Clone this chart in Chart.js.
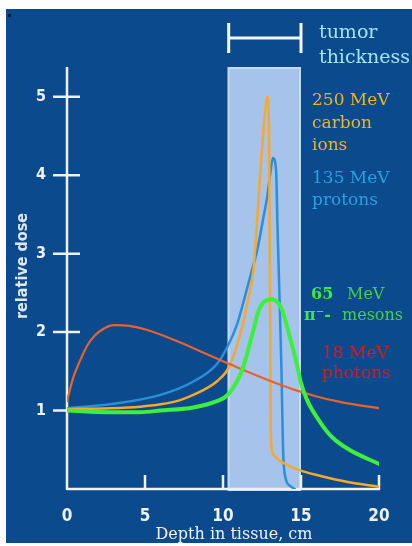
<!DOCTYPE html>
<html>
<head>
<meta charset="utf-8">
<script src="https://cdn.jsdelivr.net/npm/chart.js@4"></script>
<style>
  html, body { margin: 0; padding: 0; background: #fff; }
  canvas { display: block; }
</style>
</head>
<body>
<canvas id="chart" width="412" height="546"></canvas>
<script>
// tick values
const xTicks = [0, 5, 10, 15, 20];
const yTicks = [1, 2, 3, 4, 5];
// tumor region, cm
const tumorRange = [10.3, 15.0];

// 18 MeV photons
const photonDepth = [0, 0.4, 0.8, 1.3, 1.8, 2.4, 3.0, 4.0, 5.1, 7.0, 8.5, 10.0, 11.5, 13.0, 14.5, 16.0, 17.5, 19.0, 20];
const photonDose  = [1.12, 1.42, 1.62, 1.83, 1.96, 2.05, 2.09, 2.08, 2.03, 1.89, 1.76, 1.63, 1.50, 1.38, 1.27, 1.18, 1.11, 1.06, 1.03];

// 250 MeV carbon ions
const carbonDepth = [0, 2.75, 4.7, 6.0, 7.2, 8.1, 9.0, 9.6, 10.4, 11.1, 11.6, 11.95, 12.5, 12.85, 12.95, 13.0, 13.05, 13.1, 13.3, 13.65, 14.9, 16.2, 18.0, 20];
const carbonDose  = [1.02, 1.03, 1.05, 1.08, 1.13, 1.2, 1.29, 1.37, 1.56, 1.97, 2.4, 2.79, 4.32, 5.0, 4.6, 3.0, 1.0, 0.55, 0.42, 0.36, 0.24, 0.17, 0.09, 0.03];

// 135 MeV protons
const protonDepth = [0, 2.75, 6.0, 8.1, 9.6, 10.3, 10.9, 11.4, 11.8, 12.2, 12.6, 12.85, 13.05, 13.2, 13.4, 13.5, 13.6, 13.75, 13.85, 14.0, 14.3, 14.6];
const protonDose  = [1.03, 1.08, 1.2, 1.37, 1.59, 1.82, 2.1, 2.45, 2.75, 3.05, 3.47, 3.75, 4.05, 4.22, 4.07, 3.3, 2.6, 1.5, 0.5, 0.15, 0.04, 0];

// 65 MeV pi- mesons
const pionDepth = [0, 2.75, 4.7, 6.0, 8.1, 9.6, 10.3, 11.2, 11.85, 12.3, 12.6, 13.1, 13.5, 13.8, 14.2, 14.7, 15.0, 15.4, 16.2, 17.0, 18.1, 20];
const pionDose  = [1.0, 0.98, 0.98, 1.0, 1.04, 1.12, 1.2, 1.5, 1.95, 2.28, 2.38, 2.42, 2.38, 2.28, 2.0, 1.62, 1.35, 1.13, 0.86, 0.66, 0.5, 0.32];

const toPoints = (xs, ys) => xs.map((x, i) => ({ x: x, y: ys[i] }));

const serif = '"DejaVu Serif", "Liberation Serif", serif';
const narrow = '"DejaVu Sans Condensed", "Liberation Sans Narrow", sans-serif';

const backdrop = {
  id: 'backdrop',
  beforeDraw(chart) {
    const c = chart.ctx;
    c.save();
    c.fillStyle = '#ffffff';
    c.fillRect(0, 0, chart.width, chart.height);
    c.fillStyle = '#0b4a8c';
    c.fillRect(6, 9, chart.width - 6, 534);
    c.fillStyle = '#0a1a30';
    c.fillRect(8, 14, 3, 3);
    c.restore();
  }
};

const tumorBand = {
  id: 'tumorBand',
  beforeDatasetsDraw(chart) {
    const c = chart.ctx, x = chart.scales.x, y = chart.scales.y;
    const x0 = x.getPixelForValue(tumorRange[0]);
    const x1 = x.getPixelForValue(tumorRange[1]);
    const top = chart.chartArea.top, bot = y.getPixelForValue(0);
    c.save();
    c.fillStyle = '#a5c3eb';
    c.fillRect(x0, top, x1 - x0, bot - top);
    c.strokeStyle = '#c3d9f4';
    c.lineWidth = 2;
    c.strokeRect(x0 + 1, top + 1, x1 - x0 - 2, bot - top);

    // bracket "tumor thickness"
    c.strokeStyle = '#f4f6fa';
    c.lineWidth = 3;
    c.beginPath();
    c.moveTo(x0 + 1, 38); c.lineTo(x1, 38);
    c.moveTo(x0 + 1, 23); c.lineTo(x0 + 1, 53);
    c.moveTo(x1, 23); c.lineTo(x1, 53);
    c.stroke();

    // axes with crossing ticks
    const left = x.getPixelForValue(0), right = x.getPixelForValue(20);
    c.strokeStyle = '#eef1f6';
    c.lineWidth = 2.5;
    c.beginPath();
    c.moveTo(left, top); c.lineTo(left, bot + 1);
    c.moveTo(left, bot); c.lineTo(right + 1, bot);
    x.ticks.forEach(t => {
      if (t.value === 0) return;
      const px = x.getPixelForValue(t.value);
      c.moveTo(px, bot); c.lineTo(px, bot - 14);
    });
    y.ticks.forEach(t => {
      const py = y.getPixelForValue(t.value);
      c.moveTo(left - 14, py); c.lineTo(left + 13, py);
    });
    c.stroke();
    c.restore();
  }
};

const notes = {
  id: 'notes',
  afterDraw(chart) {
    const c = chart.ctx;
    c.save();
    c.textBaseline = 'alphabetic';
    c.textAlign = 'left';

    c.font = '19px ' + serif;
    c.fillStyle = '#a6e3f2';
    c.fillText('tumor', 319, 38);
    c.fillText('thickness', 319, 63);

    c.font = '17px ' + serif;
    c.fillStyle = '#efb51f';
    c.fillText('250 MeV', 312, 105);
    c.fillText('carbon', 312, 128);
    c.fillText('ions', 312, 150);

    c.fillStyle = '#2c9fdf';
    c.fillText('135 MeV', 312, 183);
    c.fillText('protons', 312, 205);

    c.font = 'bold 16px ' + serif;
    c.fillStyle = '#3ee83e';
    c.fillText('65', 311, 299);
    c.fillText('\u03c0\u207b-', 304, 320);
    c.font = '16px ' + serif;
    c.fillStyle = '#48cf48';
    c.fillText('MeV', 347, 299);
    c.fillText('mesons', 342, 320);

    c.font = '17px ' + serif;
    c.fillStyle = '#d41d1d';
    c.fillText('18 MeV', 322, 358);
    c.fillText('photons', 322, 378);

    // axis titles
    c.font = '16px ' + serif;
    c.fillStyle = '#eef1f6';
    c.textAlign = 'center';
    c.fillText('Depth in tissue, cm', 234, 539);

    c.translate(23, 266);
    c.rotate(-Math.PI / 2);
    c.textBaseline = 'middle';
    c.font = 'bold 16px ' + narrow;
    c.fillStyle = '#dfe6ef';
    c.fillText('relative dose', 0, 0);
    c.restore();
  }
};

const ctx = document.getElementById('chart');
new Chart(ctx, {
  type: 'line',
  data: {
    datasets: [
      { label: '65 MeV pi- mesons', data: toPoints(pionDepth, pionDose), borderColor: '#3cf03c', borderWidth: 4 },
      { label: '18 MeV photons', data: toPoints(photonDepth, photonDose), borderColor: '#e8622c', borderWidth: 2.2 },
      { label: '250 MeV carbon ions', data: toPoints(carbonDepth, carbonDose), borderColor: '#f6a92a', borderWidth: 2.5 },
      { label: '135 MeV protons', data: toPoints(protonDepth, protonDose), borderColor: '#2b8fd8', borderWidth: 2.5 }
    ]
  },
  options: {
    responsive: false,
    animation: false,
    layout: { padding: { left: 0, right: 33, top: 67, bottom: 0 } },
    elements: {
      point: { radius: 0 },
      line: { fill: false, cubicInterpolationMode: 'monotone', borderJoinStyle: 'round', borderCapStyle: 'round' }
    },
    plugins: { legend: { display: false }, tooltip: { enabled: false } },
    scales: {
      x: {
        type: 'linear', min: 0, max: 20,
        afterFit: s => { s.height = 57; },
        afterBuildTicks: s => { s.ticks = xTicks.map(v => ({ value: v })); },
        grid: { display: false },
        border: { display: false },
        ticks: { color: '#eef1f6', padding: 9, maxRotation: 0, font: { family: narrow, size: 17, weight: 'bold' } }
      },
      y: {
        type: 'linear', min: 0, max: 5.38,
        afterFit: s => { s.width = 67; },
        afterBuildTicks: s => { s.ticks = yTicks.map(v => ({ value: v })); },
        grid: { display: false },
        border: { display: false },
        ticks: { color: '#eef1f6', padding: 13, font: { family: narrow, size: 16, weight: 'bold' } }
      }
    }
  },
  plugins: [backdrop, tumorBand, notes]
});
</script>
</body>
</html>
